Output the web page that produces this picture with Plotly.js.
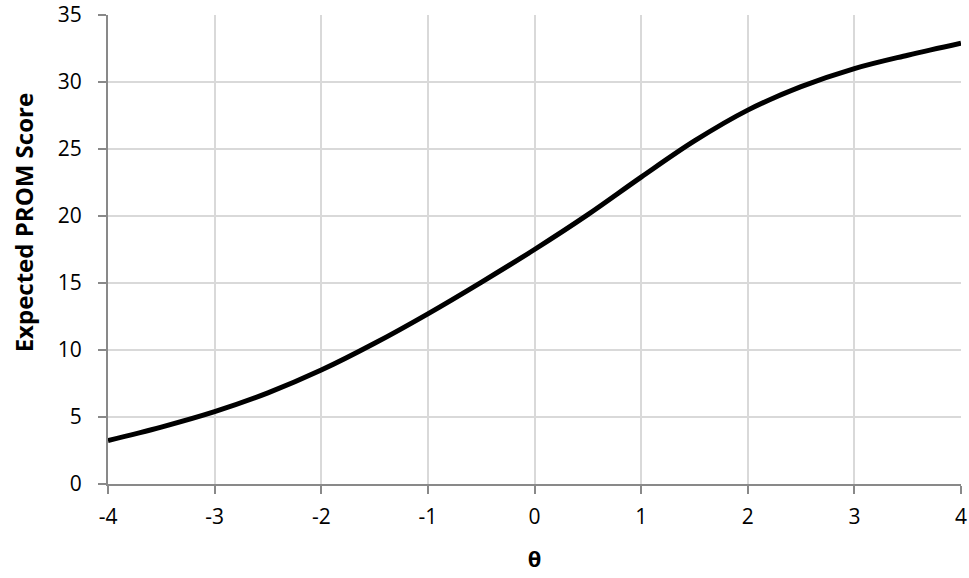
<!DOCTYPE html>
<html>
<head>
<meta charset="utf-8">
<script src="https://cdn.plot.ly/plotly-3.0.1.min.js"></script>
<style>
  html, body { margin: 0; padding: 0; background: #fff; }
  #chart { width: 969px; height: 578px; }
</style>
</head>
<body>
<div id="chart"></div>
<script>
// -------- DATA --------
const theta = [-4, -3.5, -3, -2.5, -2, -1.5, -1, -0.5, 0, 0.5, 1, 1.5, 2, 2.5, 3, 3.5, 4];
const expectedScore = [3.25, 4.25, 5.4, 6.8, 8.5, 10.5, 12.7, 15.05, 17.5, 20.1, 22.9, 25.6, 27.9, 29.65, 31.0, 32.0, 32.9];
const xTicks = [-4, -3, -2, -1, 0, 1, 2, 3, 4];
const yTicks = [0, 5, 10, 15, 20, 25, 30, 35];

// -------- TRACE --------
const curve = {
  x: theta,
  y: expectedScore,
  type: 'scatter',
  mode: 'lines',
  line: { color: '#000', width: 5, shape: 'spline', smoothing: 1 },
  hoverinfo: 'x+y'
};

const axisColor = '#898989';
const gridColor = '#d9d9d9';
const fontFamily = '"Open Sans", sans-serif';
const tickFont = { family: fontFamily, size: 21, color: '#000' };

// -------- LAYOUT --------
const layout = {
  width: 969,
  height: 578,
  margin: { l: 108, r: 8, t: 15, b: 94 },
  paper_bgcolor: '#fff',
  plot_bgcolor: '#fff',
  showlegend: false,
  xaxis: {
    range: [-4, 4],
    tickvals: xTicks,
    ticktext: xTicks.map(String),
    ticks: 'outside',
    ticklen: 8,
    tickwidth: 2,
    tickcolor: axisColor,
    showline: true,
    linecolor: axisColor,
    linewidth: 2,
    showgrid: true,
    gridcolor: gridColor,
    gridwidth: 2,
    zeroline: false,
    tickfont: tickFont,
    ticklabelstandoff: 5,
    ticklabeloverflow: 'allow',
    title: { text: '<b>θ</b>', font: { family: fontFamily, size: 22, color: '#000' }, standoff: 22 }
  },
  yaxis: {
    range: [0, 35],
    tickvals: yTicks,
    ticktext: yTicks.map(String),
    ticks: 'outside',
    ticklen: 8,
    tickwidth: 2,
    tickcolor: axisColor,
    showline: true,
    linecolor: axisColor,
    linewidth: 2,
    showgrid: true,
    gridcolor: gridColor,
    gridwidth: 2,
    zeroline: false,
    tickfont: tickFont,
    ticklabelstandoff: 12,
    ticklabeloverflow: 'allow'
  },
  // y title sits a little above the plot centre in the reference
  annotations: [{
    text: '<b>Expected PROM Score</b>',
    xref: 'paper', yref: 'paper',
    x: -0.099, y: 0.557,
    xanchor: 'center', yanchor: 'middle',
    textangle: -90,
    showarrow: false,
    font: { family: fontFamily, size: 24, color: '#000' }
  }]
};

Plotly.newPlot('chart', [curve], layout, { displayModeBar: false, staticPlot: true });
</script>
</body>
</html>
